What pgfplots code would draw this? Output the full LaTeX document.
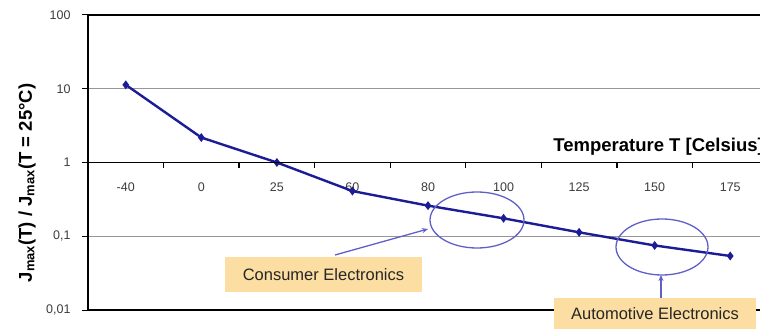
\documentclass[border=0pt]{standalone}
\usepackage{pgfplots}
\pgfplotsset{compat=1.18}
\usepackage{fontspec}
\setmainfont{Liberation Sans}
\usetikzlibrary{arrows.meta}

\definecolor{curve}{RGB}{28,28,150}
\definecolor{ring}{RGB}{95,95,200}
\definecolor{peach}{RGB}{252,221,162}
\definecolor{ticktext}{RGB}{60,60,60}
\definecolor{gridgray}{RGB}{150,150,150}

\begin{document}
\begin{tikzpicture}
\useasboundingbox (0pt,0pt) rectangle (760pt,329pt);
\clip (0pt,0pt) rectangle (760pt,329pt);
\begin{axis}[
    at={(88pt,19pt)}, anchor=south west,
    scale only axis, width=680pt, height=295pt,
    ymode=log, ymin=0.01, ymax=100,
    xmin=-0.5, xmax=8.5,
    axis x line=middle, axis y line=left,
    axis line style={-, black, line width=1.6pt},
    /pgf/number format/assume math mode=true,
    xtick={0,...,8},
    xticklabels={-40,0,25,60,80,100,125,150,175},
    major x tick style={draw=none},
    xticklabel style={font=\fontsize{12.5}{14}\selectfont, text=ticktext, anchor=center, yshift=-22pt},
    ytick={0.01,0.1,1,10,100},
    yticklabels={{0,01},{0,1},1,10,100},
    yminorticks=false,
    ytick align=outside,
    major tick length=6pt,
    major y tick style={black, line width=1pt},
    yticklabel style={font=\fontsize{12.5}{14}\selectfont, text=ticktext, xshift=-8pt},
    ymajorgrids,
    major grid style={gridgray, line width=0.9pt},
    clip=false,
]
% plot area frame
\draw[black, line width=1.6pt] (rel axis cs:0,0) rectangle (rel axis cs:1,1);
\addplot[curve, line width=2.4pt, mark=diamond*, mark size=2.5pt,
         mark options={fill=curve}]
  coordinates {(0,11.3) (1,2.18) (2,1.0) (3,0.41) (4,0.26)
               (5,0.175) (6,0.113) (7,0.075) (8,0.054)};
\end{axis}

\begin{scope}[x=1pt, y=1pt]
% category axis crossing at 1, with tick marks between the categories
\draw[black, line width=1.8pt] (88,166.5) -- (768,166.5);
\foreach \t in {163.6,239.1,314.7,390.2,465.8,541.3,616.9,692.4}
  \draw[black, line width=1.3pt] (\t,166.5) -- (\t,161);

% axis titles
\node[rotate=90, font=\bfseries\fontsize{18.5}{20}\selectfont] at (27,146)
  {J\textsubscript{max}(T) / J\textsubscript{max}(T = 25°C)};
\node[anchor=east, inner sep=0pt, font=\bfseries\fontsize{18.5}{20}\selectfont] at (764,182)
  {Temperature T [Celsius]};

% highlighted temperature ranges
\draw[ring, line width=1.3pt] (477,109) ellipse [x radius=47, y radius=28];
\draw[ring, line width=1.3pt] (662,82) ellipse [x radius=46, y radius=28];

% callouts
\draw[ring, line width=1.3pt, -{Stealth[length=6pt,width=5pt]}] (335,74) -- (428,100);
\draw[ring, line width=1.3pt, -{Stealth[length=6pt,width=5pt]}] (661,31) -- (661,54);
\fill[peach] (225,37) rectangle (422,72);
\node[font=\fontsize{16.5}{18}\selectfont, text=black!85] at (323.5,54) {Consumer Electronics};
\fill[peach] (554,-2) rectangle (756,31);
\node[font=\fontsize{16.5}{18}\selectfont, text=black!85] at (655,15) {Automotive Electronics};
\end{scope}
\end{tikzpicture}
\end{document}
